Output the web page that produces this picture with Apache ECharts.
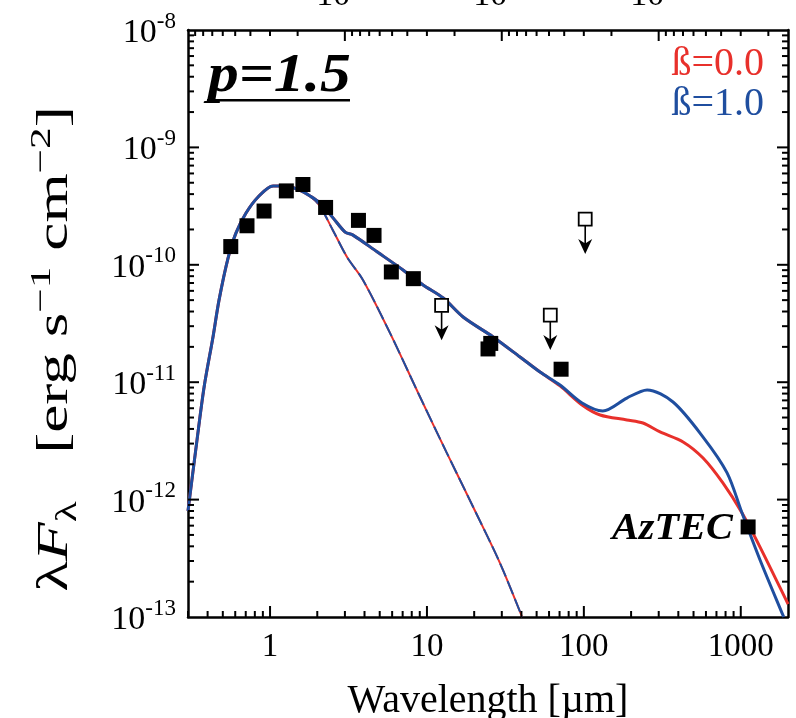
<!DOCTYPE html>
<html><head><meta charset="utf-8">
<script src="https://cdn.jsdelivr.net/npm/echarts@6/dist/echarts.min.js"></script>
<style>html,body{margin:0;padding:0;background:#fff}#c{width:796px;height:718px}</style>
</head><body><div id="c"></div>
<script>
// ---------- data ----------
const C_UM = 2.998e14; // c in Hz*um (top axis: frequency)
const xTickLabels = ['1', '10', '100', '1000'];
const yTickExps = [-13, -12, -11, -10, -9, -8];
const topTickExps = [12, 13, 14];

// total model, beta = 1.0 (blue)
const blueLam = [0.30, 0.338, 0.380, 0.433, 0.473, 0.540, 0.607, 0.703, 0.839, 1.045, 1.26, 1.53, 1.80, 2.08, 2.52, 3.01, 3.38, 4.81, 7.04, 9.45, 12.7, 17.0, 26.4, 39.2, 52.6, 70.5, 97.4, 132, 188, 253, 370, 575, 818, 1019, 1327, 1833, 1880];
const blueF = [8.0e-13, 2.81e-12, 9.1e-12, 2.43e-11, 5.0e-11, 1.14e-10, 1.87e-10, 2.76e-10, 3.78e-10, 4.69e-10, 4.69e-10, 4.34e-10, 3.85e-10, 3.36e-10, 2.51e-10, 1.90e-10, 1.79e-10, 1.29e-10, 9.04e-11, 6.73e-11, 5.21e-11, 3.59e-11, 2.43e-11, 1.64e-11, 1.22e-11, 9.46e-12, 6.65e-12, 5.69e-12, 7.33e-12, 8.59e-12, 6.78e-12, 3.41e-12, 1.69e-12, 7.69e-13, 3.06e-13, 1.08e-13, 1.0e-13];

// total model, beta = 0.0 (red)
const redLam = [0.30, 0.338, 0.380, 0.433, 0.473, 0.540, 0.607, 0.703, 0.839, 1.045, 1.26, 1.53, 1.80, 2.08, 2.52, 3.01, 3.38, 4.81, 7.04, 9.45, 12.7, 17.0, 26.4, 39.2, 52.6, 70.5, 97.4, 127, 188, 238, 306, 429, 575, 771, 1019, 1327, 1974, 2000];
const redF = [8.0e-13, 2.81e-12, 9.1e-12, 2.43e-11, 5.0e-11, 1.14e-10, 1.87e-10, 2.76e-10, 3.78e-10, 4.69e-10, 4.69e-10, 4.34e-10, 3.85e-10, 3.36e-10, 2.51e-10, 1.90e-10, 1.79e-10, 1.29e-10, 9.04e-11, 6.73e-11, 5.21e-11, 3.59e-11, 2.43e-11, 1.64e-11, 1.22e-11, 9.3e-12, 6.4e-12, 5.26e-12, 4.77e-12, 4.49e-12, 3.77e-12, 3.10e-12, 2.26e-12, 1.38e-12, 7.69e-13, 3.94e-13, 1.34e-13, 1.29e-13];

// stellar photosphere (dashed)
const starLam = [0.30, 0.338, 0.380, 0.433, 0.473, 0.540, 0.607, 0.703, 0.839, 1.045, 1.26, 1.53, 1.80, 2.08, 2.50, 3.10, 3.91, 5.82, 9.04, 13.4, 19.7, 29.2, 40.4];
const starF = [8.0e-13, 2.81e-12, 9.1e-12, 2.43e-11, 5.0e-11, 1.14e-10, 1.87e-10, 2.76e-10, 3.78e-10, 4.69e-10, 4.69e-10, 4.34e-10, 3.85e-10, 3.15e-10, 2.0e-10, 1.16e-10, 7.43e-11, 2.62e-11, 7.48e-12, 2.49e-12, 8.65e-13, 2.88e-13, 1.0e-13];

// photometry (filled squares)
const detLam = [0.562, 0.713, 0.916, 1.27, 1.62, 2.26, 3.66, 4.60, 5.93, 8.19, 24.5, 25.5, 71.6, 1114];
const detF = [1.43e-10, 2.15e-10, 2.87e-10, 4.26e-10, 4.83e-10, 3.08e-10, 2.39e-10, 1.78e-10, 8.69e-11, 7.62e-11, 1.92e-11, 2.14e-11, 1.29e-11, 5.85e-13];

// upper limits (open squares with arrows)
const ulLam = [12.4, 61.1, 102];
const ulF = [4.52e-11, 3.73e-11, 2.45e-10];

// tick positions
const xMajorTicks = [1, 10, 100, 1000];
const xMinorMult = [2, 3, 4, 5, 6, 7, 8, 9];
const freqMajorTicks = [1e12, 1e13, 1e14];
const yMajorTicks = [1e-12, 1e-11, 1e-10, 1e-9];

// ---------- chart ----------
const SERIF = '"Liberation Serif", "Times New Roman", serif';
const L10 = Math.log10;
const pair = (xs, ys) => xs.map((x, i) => [x, ys[i]]);
const isDecade = v => Math.abs(L10(v) - Math.round(L10(v))) < 1e-6;

const xMin = 0.3, xMax = 2000, yMin = 1e-13, yMax = 1e-8;
const fMin = C_UM / xMax, fMax = C_UM / xMin;

// tick list for the tick-mark series: [x, y, length, side]  side: 0 bottom, 1 top, 2 left, 3 right
const MAJ = 11, MIN = 6;
const tickData = [];
xMajorTicks.forEach(v => tickData.push([v, yMin, MAJ, 0]));
for (let n = -1; n <= 3; n++) xMinorMult.forEach(k => { const v = k * Math.pow(10, n); if (v > xMin && v < xMax) tickData.push([v, yMin, MIN, 0]); });
freqMajorTicks.forEach(f => tickData.push([C_UM / f, yMax, MAJ, 1]));
for (let n = 11; n <= 14; n++) xMinorMult.forEach(k => { const f = k * Math.pow(10, n); if (f > fMin && f < fMax) tickData.push([C_UM / f, yMax, MIN, 1]); });
yMajorTicks.forEach(v => { tickData.push([xMin, v, MAJ, 2]); tickData.push([xMax, v, MAJ, 3]); });
for (let n = -13; n <= -9; n++) xMinorMult.forEach(k => { const v = k * Math.pow(10, n); tickData.push([xMin, v, MIN, 2]); tickData.push([xMax, v, MIN, 3]); });

const frame = () => ({ show: true, onZero: false, lineStyle: { color: '#000', width: 2.5 } });
const supRich = () => ({
  b: { fontFamily: SERIF, fontSize: 34, color: '#000', lineHeight: 40, verticalAlign: 'bottom' },
  s: { fontFamily: SERIF, fontSize: 23, color: '#000', lineHeight: 22, verticalAlign: 'top' }
});
const arrowPath = 'path://M6.2,0 L7.8,0 L7.8,17 L14,13 L7,28 L0,13 L6.2,17 Z';
const blueC = '#1f4e9f', redC = '#e8302b';

const option = {
  animation: false,
  grid: { left: 188, right: 8, top: 30, bottom: 101, outerBoundsMode: 'none' },
  xAxis: [
    { type: 'log', min: xMin, max: xMax, position: 'bottom', axisLine: frame(), axisTick: { show: false }, splitLine: { show: false },
      axisLabel: { margin: 14, fontFamily: SERIF, fontSize: 33, color: '#000',
        formatter: v => (isDecade(v) && v >= 1 && v <= 1000) ? xTickLabels[Math.round(L10(v))] : '' },
      name: 'Wavelength [µm]', nameLocation: 'middle', nameGap: 64,
      nameTextStyle: { fontFamily: SERIF, fontSize: 40, color: '#000' } },
    { type: 'log', min: fMin, max: fMax, inverse: true, position: 'top', axisLine: frame(), axisTick: { show: false }, splitLine: { show: false },
      axisLabel: { margin: 17, rich: supRich(),
        formatter: v => { if (!isDecade(v)) return ''; const e = Math.round(L10(v)); return topTickExps.indexOf(e) >= 0 ? '{b|10}{s|' + e + '}' : ''; } } }
  ],
  yAxis: [
    { type: 'log', min: yMin, max: yMax, position: 'left', axisLine: frame(), axisTick: { show: false }, splitLine: { show: false },
      axisLabel: { margin: 12, rich: supRich(),
        formatter: v => { const e = Math.round(L10(v)); return yTickExps.indexOf(e) >= 0 ? '{b|10}{s|' + e + '}' : ''; } } },
    { type: 'log', min: yMin, max: yMax, position: 'right', axisLine: frame(), axisTick: { show: false }, splitLine: { show: false },
      axisLabel: { show: false } }
  ],
  series: [
    { name: 'star0', type: 'line', xAxisIndex: 0, yAxisIndex: 0, data: pair(starLam, starF), showSymbol: false, smooth: 0.3, z: 2,
      lineStyle: { color: redC, width: 2 } },
    { name: 'star1', type: 'line', xAxisIndex: 0, yAxisIndex: 0, data: pair(starLam, starF), showSymbol: false, smooth: 0.3, z: 3,
      lineStyle: { color: blueC, width: 2, type: [14, 5] } },
    { name: 'β=0.0', type: 'line', xAxisIndex: 0, yAxisIndex: 0, data: pair(redLam, redF), showSymbol: false, smooth: 0.3, z: 4,
      lineStyle: { color: redC, width: 3 } },
    { name: 'β=1.0', type: 'line', xAxisIndex: 0, yAxisIndex: 0, data: pair(blueLam, blueF), showSymbol: false, smooth: 0.3, z: 5,
      lineStyle: { color: blueC, width: 3 } },
    { name: 'data', type: 'scatter', xAxisIndex: 0, yAxisIndex: 0, data: pair(detLam, detF), symbol: 'rect', symbolSize: 15, z: 8,
      itemStyle: { color: '#000', opacity: 1 } },
    { name: 'ul', type: 'scatter', xAxisIndex: 0, yAxisIndex: 0, data: pair(ulLam, ulF), symbol: 'rect', symbolSize: 13, z: 8,
      itemStyle: { color: '#fff', borderColor: '#000', borderWidth: 1.8, opacity: 1 } },
    { name: 'ularrow', type: 'scatter', xAxisIndex: 0, yAxisIndex: 0, data: pair(ulLam, ulF), symbol: arrowPath, symbolSize: [14, 28], symbolOffset: [0, 21], z: 8,
      itemStyle: { color: '#000', opacity: 1 } },
    { name: 'ticks', type: 'custom', xAxisIndex: 0, yAxisIndex: 0, data: tickData, clip: false, z: 9, silent: true,
      dimensions: ['x', 'y', 'len', 'side'], encode: { x: 0, y: 1 },
      renderItem: (params, api) => {
        const side = api.value(3), len = api.value(2);
        const p = api.coord([api.value(0), api.value(1)]);
        const cs = params.coordSys;
        let x1, y1, x2, y2;
        if (side === 0) { x1 = x2 = p[0]; y1 = cs.y + cs.height; y2 = y1 - len; }
        else if (side === 1) { x1 = x2 = p[0]; y1 = cs.y; y2 = y1 + len; }
        else if (side === 2) { y1 = y2 = p[1]; x1 = cs.x; x2 = x1 + len; }
        else { y1 = y2 = p[1]; x1 = cs.x + cs.width; x2 = x1 - len; }
        return { type: 'line', shape: { x1: x1, y1: y1, x2: x2, y2: y2 }, style: { stroke: '#000', lineWidth: 2, fill: null } };
      } }
  ],
  graphic: [
    { type: 'text', x: 208, y: 77, z: 20, scaleX: 1.14,
      style: { text: 'p=1.5', fontFamily: SERIF, fontSize: 54, fontWeight: 'bold', fontStyle: 'italic', fill: '#000', align: 'left', verticalAlign: 'middle' } },
    { type: 'rect', z: 20, shape: { x: 207, y: 99, width: 143, height: 2.5 }, style: { fill: '#000' } },
    { type: 'text', x: 764, y: 64, z: 20,
      style: { text: 'ß=0.0', fontFamily: SERIF, fontSize: 40, fill: redC, align: 'right', verticalAlign: 'middle' } },
    { type: 'text', x: 764, y: 104, z: 20,
      style: { text: 'ß=1.0', fontFamily: SERIF, fontSize: 40, fill: blueC, align: 'right', verticalAlign: 'middle' } },
    { type: 'text', x: 612, y: 529, z: 20, scaleX: 1.06,
      style: { text: 'AzTEC', fontFamily: SERIF, fontSize: 38, fontWeight: 'bold', fontStyle: 'italic', fill: '#000', align: 'left', verticalAlign: 'middle' } },
    { type: 'text', x: 55, y: 349, z: 20, rotation: Math.PI / 2, scaleX: 1.44,
      style: { text: 'λ{i|F}{sub|λ}   [erg s{sup|−1} cm{sup|−2}]', fontFamily: SERIF, fontSize: 44, fill: '#000', align: 'center', verticalAlign: 'middle',
        rich: {
          i: { fontFamily: SERIF, fontSize: 44, fontStyle: 'italic', lineHeight: 56, verticalAlign: 'middle' },
          sub: { fontFamily: SERIF, fontSize: 30, lineHeight: 30, verticalAlign: 'bottom' },
          sup: { fontFamily: SERIF, fontSize: 30, lineHeight: 30, verticalAlign: 'top' }
        } } }
  ]
};
const chart = echarts.init(document.getElementById('c'));
chart.setOption(option);
</script></body></html>
